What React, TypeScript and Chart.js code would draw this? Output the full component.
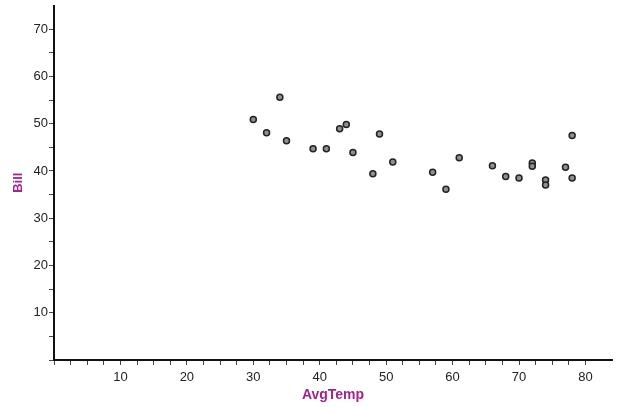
import React, { useEffect, useRef } from "react";
import { Chart, registerables } from "chart.js";

Chart.register(...registerables);

const avgTemp = [30, 32, 34, 35, 39, 41, 43, 44, 45, 48, 49, 51, 57, 59, 61, 66, 68, 70, 72, 72, 74, 74, 77, 78, 78];
const bill = [50.9, 48.1, 55.6, 46.4, 44.7, 44.7, 48.9, 49.8, 43.9, 39.4, 47.8, 41.9, 39.7, 36.1, 42.8, 41.1, 38.8, 38.5, 41.7, 41.0, 38.1, 37.0, 40.8, 47.5, 38.5];
const xTickLabels = [10, 20, 30, 40, 50, 60, 70, 80];
const yTickLabels = [10, 20, 30, 40, 50, 60, 70];

const TITLE_COLOR = "#a3238f";
const FONT = "'Liberation Sans', Arial, sans-serif";

export default function App() {
  const ref = useRef<HTMLCanvasElement | null>(null);

  useEffect(() => {
    if (!ref.current) return;
    const chart = new Chart(ref.current, {
      type: "scatter",
      data: {
        datasets: [
          {
            label: "Bill",
            data: avgTemp.map((x, i) => ({ x, y: bill[i] })),
            backgroundColor: "#909090",
            borderColor: "#222",
            borderWidth: 1.5,
            pointRadius: 3,
          },
        ],
      },
      options: {
        animation: false,
        responsive: false,
        layout: { padding: { top: 5, right: 9, left: 0, bottom: 0 } },
        plugins: { legend: { display: false }, tooltip: { enabled: false } },
        scales: {
          x: {
            type: "linear",
            min: 0,
            max: 84,
            afterBuildTicks: (scale: any) => {
              scale.ticks = scale.ticks.filter((t: any) => Math.abs(t.value / 2.5 - Math.round(t.value / 2.5)) < 1e-6);
            },
            afterFit: (scale: any) => {
              scale.height = 47;
              scale.paddingLeft = 0;
              scale.paddingRight = 0;
            },
            ticks: {
              stepSize: 2.5,
              autoSkip: false,
              maxRotation: 0,
              padding: 5,
              color: "#222",
              font: { family: FONT, size: 13 },
              callback: (v: any) => (xTickLabels.includes(Number(v)) ? String(v) : ""),
            },
            grid: { drawOnChartArea: false, drawTicks: true, tickLength: 5, color: "#444", lineWidth: 1 },
            border: { display: true, color: "#111", width: 2 },
            title: {
              display: true,
              text: "AvgTemp",
              color: TITLE_COLOR,
              font: { family: FONT, size: 14, weight: "bold" },
              padding: { top: 0, bottom: 3 },
            },
          },
          y: {
            type: "linear",
            min: 0,
            max: 75,
            afterBuildTicks: (scale: any) => {
              scale.ticks = scale.ticks.filter((t: any) => t.value % 5 === 0 && t.value < 75);
            },
            afterFit: (scale: any) => {
              scale.width = 54;
              scale.paddingTop = 0;
              scale.paddingBottom = 0;
            },
            ticks: {
              stepSize: 5,
              autoSkip: false,
              padding: 1,
              color: "#222",
              font: { family: FONT, size: 13 },
              callback: (v: any) => (yTickLabels.includes(Number(v)) ? String(v) : ""),
            },
            grid: { drawOnChartArea: false, drawTicks: true, tickLength: 5, color: "#444", lineWidth: 1 },
            border: { display: true, color: "#111", width: 2 },
            title: {
              display: true,
              text: "Bill",
              color: TITLE_COLOR,
              font: { family: FONT, size: 13, weight: "bold" },
              padding: { top: 11, bottom: 0 },
            },
          },
        },
      },
    });
    return () => chart.destroy();
  }, []);

  return (
    <div style={{ position: "absolute", left: 0, top: 0, width: 621, height: 407, background: "#fff" }}>
      <canvas ref={ref} width={621} height={407} />
    </div>
  );
}
